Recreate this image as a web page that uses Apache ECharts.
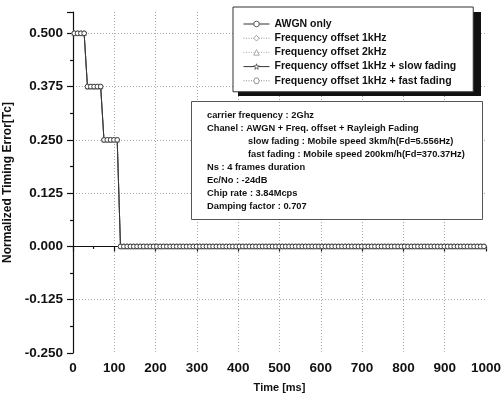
<!DOCTYPE html>
<html>
<head>
<meta charset="utf-8">
<script src="https://cdn.jsdelivr.net/npm/echarts@6/dist/echarts.min.js"></script>
<style>html,body{margin:0;padding:0;background:#fff;}#c{width:501px;height:400px;}</style>
</head>
<body>
<div id="c"></div>
<script>
// ---- data ----
const TIME_MS = [3,11,19,27,35,43,51,59,67,75,83,91,99,107,115,123,131,139,147,155,
163,171,179,187,195,203,211,219,227,235,243,251,259,267,275,283,291,299,307,315,
323,331,339,347,355,363,371,379,387,395,403,411,419,427,435,443,451,459,467,475,
483,491,499,507,515,523,531,539,547,555,563,571,579,587,595,603,611,619,627,635,
643,651,659,667,675,683,691,699,707,715,723,731,739,747,755,763,771,779,787,795,
803,811,819,827,835,843,851,859,867,875,883,891,899,907,915,923,931,939,947,955,
963,971,979,987,995];
const TIMING_ERROR = [0.5,0.5,0.5,0.5,0.375,0.375,0.375,0.375,0.375,0.25,0.25,0.25,0.25,0.25,0,0,0,0,0,0,
0,0,0,0,0,0,0,0,0,0,0,0,0,0,0,0,0,0,0,0,
0,0,0,0,0,0,0,0,0,0,0,0,0,0,0,0,0,0,0,0,
0,0,0,0,0,0,0,0,0,0,0,0,0,0,0,0,0,0,0,0,
0,0,0,0,0,0,0,0,0,0,0,0,0,0,0,0,0,0,0,0,
0,0,0,0,0,0,0,0,0,0,0,0,0,0,0,0,0,0,0,0,
0,0,0,0,0];
const SERIES_NAMES = ['AWGN only','Frequency offset 1kHz','Frequency offset 2kHz',
  'Frequency offset 1kHz + slow fading','Frequency offset 1kHz + fast fading'];
const Y_TICKS = [-0.25,-0.125,0,0.125,0.25,0.375,0.5];
const X_TICKS = [0,100,200,300,400,500,600,700,800,900,1000];
const INFO_LINES = [
  ['carrier frequency : 2Ghz',0],
  ['Chanel : AWGN + Freq. offset + Rayleigh Fading',0],
  ['slow fading : Mobile speed 3km/h(Fd=5.556Hz)',1],
  ['fast fading : Mobile speed 200km/h(Fd=370.37Hz)',1],
  ['Ns : 4 frames duration',0],
  ['Ec/No : -24dB',0],
  ['Chip rate : 3.84Mcps',0],
  ['Damping factor : 0.707',0]
];

const FONT = '"Liberation Sans", Arial, sans-serif';
const pts = TIME_MS.map((t,i)=>[t, TIMING_ERROR[i]]);
const STAR = 'path://M50,0 L61,35 L98,35 L68,57 L79,91 L50,70 L21,91 L32,57 L2,35 L39,35 Z';
const HEX = 'path://M25,0 L75,0 L100,50 L75,100 L25,100 L0,50 Z';
const styles = [
  {symbol:'circle', line:{color:'#333', width:1, type:'solid'}, border:'#333'},
  {symbol:'diamond', line:{color:'#999', width:1, type:[1,1.5]}, border:'#888'},
  {symbol:'triangle', line:{color:'#aaa', width:1, type:[1,1.5]}, border:'#999'},
  {symbol:STAR, line:{color:'#333', width:1, type:'solid'}, border:'#444'},
  {symbol:HEX, line:{color:'#888', width:1, type:[1,1.5]}, border:'#777'}
];
// draw so that the circle series ends up on top
const order = [4,3,2,1,0];
const series = order.map(i => ({
  name: SERIES_NAMES[i],
  type: 'line',
  data: pts,
  symbol: styles[i].symbol,
  symbolSize: 4.6,
  showSymbol: true,
  lineStyle: styles[i].line,
  itemStyle: {color:'#fff', borderColor: styles[i].border, borderWidth: 0.9},
  emphasis: {disabled:true},
  animation: false,
  z: 2 + (4 - i)
}));

const isMajor = v => Y_TICKS.some(t => Math.abs(t - v) < 1e-9);

const chart = echarts.init(document.getElementById('c'), null, {renderer:'canvas'});
const graphics = [
  { // legend drop shadow
    type:'rect', left:238, top:12, z:40,
    shape:{width:243, height:84},
    style:{fill:'#111'}
  },
  {
    type:'rect', left:191, top:101, z:50,
    shape:{width:291, height:118},
    style:{fill:'#fff', stroke:'#555', lineWidth:1}
  }
];
INFO_LINES.forEach((ln, i) => {
  graphics.push({
    type:'text', left: ln[1] ? 248 : 207, top: 111 + i*13, z:51,
    style:{text: ln[0], fill:'#111', font:'bold 9.3px ' + FONT}
  });
});

chart.setOption({
  animation:false,
  grid:{left:73, right:15, top:12, bottom:47, containLabel:false, outerBoundsMode:'none'},
  xAxis:{
    type:'value', min:0, max:1000, interval:100,
    name:'Time [ms]', nameLocation:'middle', nameGap:29,
    nameTextStyle:{color:'#111', fontFamily:FONT, fontWeight:'bold', fontSize:11, verticalAlign:'top'},
    axisLine:{show:true, lineStyle:{color:'#111', width:1.2}},
    axisTick:{show:true, inside:false, length:5, lineStyle:{color:'#111', width:1.2}},
    minorTick:{show:true, splitNumber:2, length:2.5, lineStyle:{color:'#111', width:1.2}},
    axisLabel:{color:'#111', fontFamily:FONT, fontWeight:'bold', fontSize:13.5, margin:8,
      customValues: X_TICKS, formatter: v => String(v)},
    splitLine:{show:true, showMinLine:false, showMaxLine:false, lineStyle:{color:'#aaa', width:1, type:[1,2]}}
  },
  yAxis:{
    type:'value', min:-0.25, max:0.55, interval:0.125,
    name:'Normalized Timing Error[Tc]', nameLocation:'middle', nameGap:53,
    nameTextStyle:{color:'#111', fontFamily:FONT, fontWeight:'bold', fontSize:12},
    axisLine:{show:true, onZero:false, lineStyle:{color:'#111', width:1.2}},
    axisTick:{show:true, inside:false, length:6, lineStyle:{color:'#111', width:1.2}},
    minorTick:{show:true, splitNumber:2, length:3, lineStyle:{color:'#111', width:1.2}},
    axisLabel:{color:'#111', fontFamily:FONT, fontWeight:'bold', fontSize:13.5, margin:10,
      formatter: v => isMajor(v) ? v.toFixed(3) : ''},
    splitLine:{show:true, showMinLine:false, showMaxLine:false, lineStyle:{color:'#aaa', width:1, type:[1,2]}}
  },
  legend:{
    show:true, orient:'vertical', left:233, top:7,
    data: SERIES_NAMES,
    itemWidth:26, itemHeight:7, itemGap:2.2,
    padding:[11,17,5,10],
    backgroundColor:'#fff', borderColor:'#333', borderWidth:1,
    lineStyle:{width:1},
    itemStyle:{borderWidth:0.8},
    textStyle:{color:'#111', fontFamily:FONT, fontWeight:'bold', fontSize:10.5, lineHeight:12},
    selectedMode:false, z:60
  },
  graphic: graphics,
  series: series
});
</script>
</body>
</html>
